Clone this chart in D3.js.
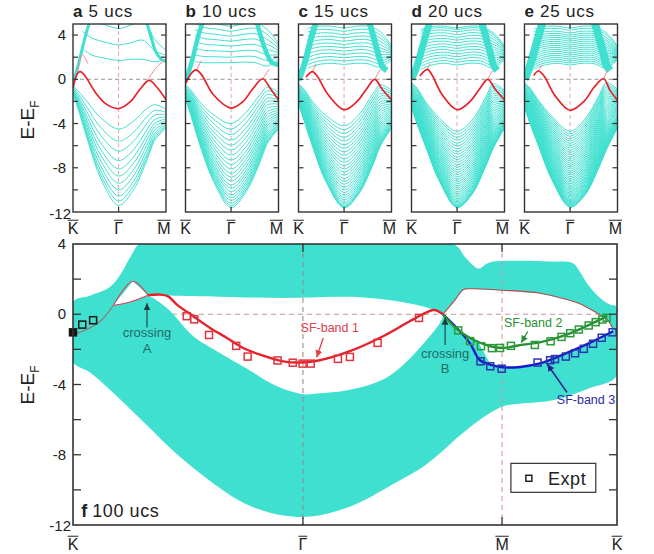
<!DOCTYPE html>
<html>
<head>
<meta charset="utf-8">
<script src="https://cdn.jsdelivr.net/npm/d3@7"></script>
<style>
  body { margin: 0; background: #fff; }
  svg { display: block; font-family: 'Liberation Sans', Arial, sans-serif; }
</style>
</head>
<body>
<div id="viz"></div>
<script>
// ---------- top panels a-e : slab calculations, k path K -> Gamma -> M mapped to 0..1
const PANEL_IDS = ['a', 'b', 'c', 'd', 'e'];
const PANEL_TITLES = ['5 ucs', '10 ucs', '15 ucs', '20 ucs', '25 ucs'];
const T_GAMMA = 0.49;
const T_LOWER = [0, 0.06, 0.15, 0.3, 0.49, 0.65, 0.8, 0.88, 1.0];
const T_UPPER = [0.1, 0.2, 0.35, 0.49, 0.62, 0.75, 0.88, 1.0];

// energy at Gamma of every sub-band below E_F (read panel by panel)
const lowerLevels = [
	[-4.5, -5.6, -6.5, -7.35, -8.1, -8.75, -9.4, -10.0, -10.55, -11.0, -11.4],
	[-4.0, -4.5, -5.0, -5.5, -5.95, -6.4, -6.85, -7.3, -7.7, -8.1, -8.5, -8.85, -9.2, -9.55, -9.85, -10.15, -10.45, -10.7, -10.95, -11.2, -11.4, -11.6],
	[-4.2, -4.55, -4.9, -5.24, -5.58, -5.91, -6.24, -6.56, -6.88, -7.19, -7.5, -7.8, -8.1, -8.39, -8.67, -8.95, -9.22, -9.48, -9.74, -9.99, -10.23, -10.46, -10.68, -10.89, -11.08, -11.25, -11.4, -11.5, -11.57, -11.62],
	[-4.7, -4.97, -5.24, -5.5, -5.76, -6.02, -6.27, -6.52, -6.77, -7.01, -7.25, -7.49, -7.72, -7.95, -8.17, -8.39, -8.61, -8.82, -9.03, -9.23, -9.43, -9.62, -9.81, -9.99, -10.17, -10.34, -10.5, -10.66, -10.81, -10.95, -11.08, -11.2, -11.31, -11.4, -11.47, -11.53, -11.57, -11.6],
	[-4.7, -4.92, -5.14, -5.36, -5.57, -5.78, -5.99, -6.2, -6.4, -6.6, -6.8, -7.0, -7.19, -7.38, -7.57, -7.76, -7.94, -8.12, -8.3, -8.47, -8.64, -8.81, -8.97, -9.13, -9.29, -9.44, -9.59, -9.74, -9.88, -10.02, -10.15, -10.28, -10.41, -10.53, -10.65, -10.76, -10.87, -10.97, -11.07, -11.16, -11.25, -11.33, -11.4, -11.46, -11.52, -11.57]
];
// top-most and bottom-most band of the lower manifold, at T_LOWER
const lowerInner = [
	[-0.6, -1.1, -2.0, -3.5, -4.5, -3.8, -2.6, -2.3, -2.7],
	[-0.5, -1.0, -2.0, -3.2, -4.0, -3.0, -1.4, -0.7, -1.2],
	[-0.4, -0.9, -2.0, -3.3, -4.2, -3.2, -1.3, -0.5, -1.0],
	[-0.3, -0.8, -2.0, -3.5, -4.7, -3.7, -1.6, -0.4, -1.0],
	[-0.3, -0.8, -1.9, -3.4, -4.7, -3.6, -1.5, -0.3, -0.9]
];
const lowerOuter = [
	[-1.3, -2.8, -5.3, -9.0, -11.4, -10.0, -7.2, -5.5, -4.4],
	[-1.8, -3.3, -5.8, -9.2, -11.6, -10.2, -7.5, -5.8, -4.5],
	[-2.2, -3.7, -6.0, -9.3, -11.6, -10.3, -7.7, -6.0, -4.4],
	[-2.5, -4.0, -6.0, -9.2, -11.6, -10.4, -7.8, -6.2, -4.4],
	[-2.5, -4.0, -6.0, -9.2, -11.6, -10.5, -8.0, -6.4, -4.4]
];

// sub-bands above E_F
const upperLevels = [
	[1.7, 3.1, 4.6],
	[1.5, 2.0, 2.5, 3.0, 3.45, 3.9, 4.35, 4.8],
	[1.35, 1.65, 1.95, 2.25, 2.55, 2.85, 3.15, 3.45, 3.75, 4.05, 4.35, 4.65],
	[1.3, 1.55, 1.8, 2.05, 2.3, 2.55, 2.8, 3.05, 3.3, 3.55, 3.8, 4.05, 4.3, 4.5, 4.65],
	[1.3, 1.48, 1.66, 1.84, 2.02, 2.2, 2.38, 2.56, 2.74, 2.92, 3.1, 3.28, 3.46, 3.64, 3.82, 4.0, 4.2, 4.45, 4.65]
];
const upperInner = [
	[2.8, 2.2, 1.9, 1.7, 1.8, 1.8, 1.6, 1.8],
	[1.6, 1.5, 1.5, 1.5, 1.55, 1.5, 1.2, 1.8],
	[1.0, 1.3, 1.45, 1.35, 1.45, 1.4, 1.1, 1.8],
	[0.9, 1.25, 1.45, 1.3, 1.45, 1.4, 1.0, 1.8],
	[0.9, 1.25, 1.45, 1.3, 1.45, 1.4, 1.0, 1.8]
];
const upperOuter = [
	[6.0, 5.4, 4.9, 4.6, 4.9, 5.4, 3.6, 2.6],
	[5.6, 5.2, 5.0, 4.8, 5.0, 5.1, 4.5, 3.2],
	[4.6, 4.8, 4.8, 4.65, 4.8, 4.8, 4.3, 3.0],
	[4.5, 4.75, 4.8, 4.65, 4.8, 4.75, 4.2, 3.0],
	[4.5, 4.75, 4.8, 4.65, 4.8, 4.75, 4.2, 3.0]
];

// steep bulk bands leaving K and entering M
const steepLeft = [
	[[0, -0.3], [0.03, 0.5], [0.065, 1.6], [0.13, 3.8], [0.19, 5.5]],
	[[0, -0.2], [0.04, 0.8], [0.08, 2.0], [0.14, 4.0], [0.2, 5.5]],
	[[0, -0.1], [0.045, 0.9], [0.09, 2.2], [0.145, 4.0], [0.2, 5.4]],
	[[0, 0.0], [0.05, 1.0], [0.1, 2.4], [0.15, 3.9], [0.2, 5.3]],
	[[0, 0.0], [0.05, 1.0], [0.1, 2.4], [0.15, 3.9], [0.2, 5.3]]
];
const steepRight = [
	[[0.78, 5.5], [0.84, 3.8], [0.89, 2.5], [0.95, 1.8], [1.0, 1.6]],
	[[0.76, 5.4], [0.82, 3.6], [0.88, 2.2], [0.93, 1.5], [1.0, 1.3]],
	[[0.76, 5.3], [0.81, 3.7], [0.86, 2.2], [0.9, 1.2], [0.95, 0.8]],
	[[0.75, 5.3], [0.8, 3.8], [0.85, 2.3], [0.88, 1.3], [0.92, 0.8]],
	[[0.75, 5.3], [0.8, 3.8], [0.85, 2.3], [0.88, 1.3], [0.92, 0.8]]
];

// surface state (red) and its faint continuation
const redBands = [
	[[0, -0.8], [0.05, 0.55], [0.08, 0.7], [0.13, 0.3], [0.25, -1.3], [0.35, -2.2], [0.49, -2.65], [0.62, -2.0], [0.72, -0.9], [0.82, -0.1], [0.9, -0.7], [1.0, -1.85]],
	[[0, -0.4], [0.06, 0.5], [0.11, 0.85], [0.17, 0.45], [0.3, -1.4], [0.49, -2.6], [0.62, -2.0], [0.72, -0.9], [0.83, 0.05], [0.91, -0.8], [1.0, -1.85]],
	[[0.08, 0.2], [0.15, 0.7], [0.2, 0.3], [0.32, -1.4], [0.49, -2.75], [0.63, -2.0], [0.73, -0.9], [0.82, 0.0], [0.9, -0.9], [1.0, -1.85]],
	[[0.09, 0.3], [0.17, 0.9], [0.22, 0.4], [0.33, -1.4], [0.49, -2.75], [0.63, -2.0], [0.73, -0.9], [0.82, 0.0], [0.9, -0.9], [1.0, -1.85]],
	[[0.1, 0.35], [0.15, 0.75], [0.21, 0.3], [0.33, -1.5], [0.49, -2.8], [0.64, -2.0], [0.75, -0.7], [0.85, 0.05], [0.92, -1.0], [1.0, -1.9]]
];
const redThin = [
	[[[0.05, 0.6], [0.1, 2.2], [0.16, 1.4]], [[0.8, -0.1], [0.9, 1.1], [1.0, 1.8]]],
	[[[0.12, 0.85], [0.17, 1.7]], [[0.83, 0.05], [0.9, 0.9]]],
	[[[0.15, 0.7], [0.19, 1.4]], [[0.82, 0.0], [0.88, 0.9]]],
	[[[0.17, 0.9], [0.2, 1.4]], [[0.82, 0.0], [0.87, 0.8]]],
	[[[0.15, 0.75], [0.19, 1.3]], [[0.85, 0.05], [0.89, 0.8]]]
];

// ---------- panel f : 100 ucs, k path K -> Gamma -> M -> K mapped to 0..1
const F_TICK_POS = [0, 0.4227, 0.7887, 1];
const F_TICK_LABELS = ['K', 'Γ', 'M', 'K'];
const Y_TICKS = [4, 0, -4, -8, -12];

// projected bulk continuum: outline and the white pockets inside it
const fBulkOutline = [[0.123, 4], [0.699, 4], [0.722, 3.2], [0.745, 2.6], [0.759, 2.85], [0.772, 3.0], [0.822, 3.05], [0.877, 3.0], [0.919, 2.9], [0.932, 2.4], [0.945, 1.75], [0.96, 1.2], [0.974, 0.8], [0.987, 0.55], [1, 0.4],
	[1, -3.5], [0.95, -4.2], [0.882, -4.9], [0.822, -5.1], [0.79, -5.25], [0.748, -6.0], [0.711, -6.9], [0.675, -7.9], [0.638, -8.8], [0.601, -9.45], [0.564, -10.1], [0.528, -10.7], [0.491, -11.15], [0.454, -11.45], [0.421, -11.55],
	[0.399, -11.5], [0.362, -11.3], [0.325, -10.9], [0.289, -10.3], [0.252, -9.5], [0.215, -8.6], [0.178, -7.6], [0.142, -6.5], [0.105, -5.4], [0.068, -4.3], [0.031, -3.3], [0, -2.7],
	[0, 0.7], [0.031, 1.05], [0.068, 1.55], [0.086, 2.2], [0.099, 2.9], [0.11, 3.5]];
const fGapLens = [[0.138, 1.08], [0.16, 1.12], [0.178, 1.07], [0.27, 1.0], [0.386, 0.93], [0.509, 0.99], [0.601, 0.71], [0.656, 0.33], [0.68, 0], [0.638, -1.9], [0.577, -3.6], [0.509, -4.3], [0.454, -4.5], [0.423, -4.55], [0.375, -4.1], [0.32, -3.1], [0.27, -2.2], [0.221, -1.25], [0.178, 0.2], [0.151, 0.85]];
const fGapTriangle = [[0.074, 0.5], [0.11, 1.88], [0.138, 1.08], [0.105, 0.7]];
const fGapRight = [[0.68, 0], [0.702, 0.8], [0.717, 1.4], [0.73, 1.45], [0.79, 1.37], [0.858, 1.2], [0.908, 0.84], [0.932, 0.6], [0.963, 0.07], [0.982, -0.3], [0.993, -0.85], [0.969, -1.45], [0.95, -1.63], [0.908, -2.2], [0.858, -2.8], [0.822, -2.97], [0.79, -3.0], [0.768, -2.87], [0.746, -1.65], [0.737, -1.44], [0.708, -0.85]];

// calculated surface bands
const fBand1 = [[0.138, 1.08], [0.16, 1.12], [0.175, 1.02], [0.191, 0.55], [0.221, -0.11], [0.252, -0.78], [0.283, -1.35], [0.313, -1.92], [0.344, -2.3], [0.386, -2.68], [0.417, -2.75], [0.449, -2.65], [0.509, -2.1], [0.57, -1.25], [0.619, -0.4], [0.651, 0.12], [0.664, 0.24], [0.68, 0]];
const fBand2 = [[0.68, 0], [0.706, -0.85], [0.735, -1.44], [0.767, -1.82], [0.79, -1.92], [0.827, -1.73], [0.858, -1.6], [0.908, -1.16], [0.95, -0.59], [0.982, -0.11]];
const fBand3 = [[0.68, 0], [0.711, -0.95], [0.73, -1.67], [0.748, -2.62], [0.767, -2.87], [0.79, -3.02], [0.822, -3.0], [0.858, -2.8], [0.908, -2.2], [0.95, -1.63], [0.993, -0.97]];
const fThinK = [[0, -1.16], [0.025, -0.87], [0.05, -0.4], [0.064, 0.08], [0.074, 0.5]];
const fThinUpper = [[0.074, 0.5], [0.11, 1.88], [0.138, 1.08]];
const fThinLower = [[0.074, 0.5], [0.105, 0.7], [0.138, 1.08]];
const fThinRight = [[0.68, 0], [0.702, 0.8], [0.717, 1.4], [0.73, 1.45], [0.79, 1.37], [0.858, 1.2], [0.908, 0.84], [0.932, 0.6], [0.963, 0.07], [0.982, -0.3], [0.993, -0.85]];

// ARPES points (Expt)
const exptK = [[0.0, -1.03], [0.017, -0.59], [0.037, -0.34]];
const exptBand1 = [[0.209, -0.11], [0.223, -0.29], [0.25, -1.18], [0.3, -1.8], [0.321, -2.41], [0.376, -2.63], [0.404, -2.76], [0.422, -2.81], [0.437, -2.81], [0.487, -2.54], [0.509, -2.43], [0.56, -1.63], [0.636, -0.21]];
const exptBand2 = [[0.708, -0.92], [0.73, -1.53], [0.75, -1.82], [0.77, -1.93], [0.785, -1.92], [0.805, -1.8], [0.849, -1.75], [0.878, -1.54], [0.898, -1.29], [0.914, -1.08], [0.93, -0.87], [0.948, -0.64], [0.961, -0.45], [0.973, -0.3], [0.981, -0.2]];
const exptBand3 = [[0.749, -2.68], [0.767, -2.96], [0.788, -3.1], [0.854, -2.75], [0.877, -2.62], [0.886, -2.55], [0.906, -2.41], [0.923, -2.22], [0.939, -1.97], [0.956, -1.68], [0.972, -1.34], [0.992, -1.03]];

// ---------- layout / style
const WIDTH = 654, HEIGHT = 554;
const TOP_X = [73, 185.5, 298.5, 411.5, 524.5];
const TOP_W = 93;
const CYAN = '#40e0d0';
const RED = '#e8202a';
const GREEN = '#2a8f32';
const BLUE = '#1818d0';
const FRAME = '#333';
const STEEP_WIDTH = [3, 4.5, 6, 7, 8];

const svg = d3.select('#viz').append('svg')
	.attr('width', WIDTH)
	.attr('height', HEIGHT);

const defs = svg.append('defs');
[['dark', '#1d3f3f'], ['red', '#e0404a'], ['green', GREEN], ['blue', '#202090']].forEach(([name, col]) => {
	defs.append('marker')
		.attr('id', 'arrow-' + name)
		.attr('markerUnits', 'userSpaceOnUse')
		.attr('markerWidth', 8).attr('markerHeight', 8)
		.attr('refX', 7).attr('refY', 3.5)
		.attr('orient', 'auto')
		.append('path')
		.attr('d', 'M0,0 L7,3.5 L0,7 Z')
		.attr('fill', col);
});

function blendBand(level, tCtrl, inner, outer, gi) {
	const f = (level - inner[gi]) / (outer[gi] - inner[gi]);
	return tCtrl.map((t, i) => [t, inner[i] + f * (outer[i] - inner[i])]);
}

function barLabel(g, x, y, txt, size) {
	const t = g.append('text')
		.attr('x', x).attr('y', y)
		.attr('text-anchor', 'middle')
		.attr('font-size', size)
		.attr('fill', '#222')
		.text(txt);
	const w = t.node().getComputedTextLength();
	g.append('line')
		.attr('x1', x - w / 2).attr('x2', x + w / 2)
		.attr('y1', y - size * 0.86).attr('y2', y - size * 0.86)
		.attr('stroke', '#222').attr('stroke-width', 1);
}

function yLabel(x, y) {
	const t = svg.append('text')
		.attr('transform', 'translate(' + x + ',' + y + ') rotate(-90)')
		.attr('text-anchor', 'middle')
		.attr('font-size', 19)
		.attr('fill', '#222');
	t.append('tspan').text('E-E');
	t.append('tspan').attr('dy', 5).attr('font-size', 12).text('F');
}

// ---------- top row
const yTop = d3.scaleLinear().domain([-12, 5]).range([212, 24]);

PANEL_IDS.forEach((id, p) => {
	const x = d3.scaleLinear().domain([0, 1]).range([TOP_X[p], TOP_X[p] + TOP_W]);
	const line = d3.line()
		.x((d) => x(d[0]))
		.y((d) => yTop(d[1]))
		.curve(d3.curveCatmullRom.alpha(0.5));

	const g = svg.append('g').attr('class', 'panel-' + id);
	defs.append('clipPath').attr('id', 'clip-' + id)
		.append('rect')
		.attr('x', x(0)).attr('y', yTop(5))
		.attr('width', TOP_W).attr('height', yTop(-12) - yTop(5));

	const body = g.append('g').attr('clip-path', 'url(#clip-' + id + ')');

	body.append('line')
		.attr('x1', x(0)).attr('x2', x(1))
		.attr('y1', yTop(0)).attr('y2', yTop(0))
		.attr('stroke', '#8a8a8a').attr('stroke-width', 0.9)
		.attr('stroke-dasharray', '4,3');
	body.append('line')
		.attr('x1', x(T_GAMMA)).attr('x2', x(T_GAMMA))
		.attr('y1', yTop(5)).attr('y2', yTop(-12))
		.attr('stroke', '#e39a9a').attr('stroke-width', 0.9)
		.attr('stroke-dasharray', '4,3');

	body.selectAll('.lower-band')
		.data(lowerLevels[p].map((e) => blendBand(e, T_LOWER, lowerInner[p], lowerOuter[p], 4)))
		.enter().append('path')
		.attr('class', 'lower-band')
		.attr('fill', 'none')
		.attr('stroke', CYAN)
		.attr('stroke-width', 1)
		.attr('d', line);

	body.selectAll('.upper-band')
		.data(upperLevels[p].map((e) => blendBand(e, T_UPPER, upperInner[p], upperOuter[p], 3)))
		.enter().append('path')
		.attr('class', 'upper-band')
		.attr('fill', 'none')
		.attr('stroke', CYAN)
		.attr('stroke-width', 1)
		.attr('d', line);

	body.selectAll('.steep-band')
		.data([steepLeft[p], steepRight[p]])
		.enter().append('path')
		.attr('class', 'steep-band')
		.attr('fill', 'none')
		.attr('stroke', CYAN)
		.attr('stroke-width', STEEP_WIDTH[p])
		.attr('d', line);

	body.selectAll('.red-thin')
		.data(redThin[p])
		.enter().append('path')
		.attr('class', 'red-thin')
		.attr('fill', 'none')
		.attr('stroke', '#f08c8c')
		.attr('stroke-width', 1)
		.attr('d', line);

	body.append('path')
		.datum(redBands[p])
		.attr('fill', 'none')
		.attr('stroke', RED)
		.attr('stroke-width', 1.7)
		.attr('d', line);

	// frame and ticks
	g.append('rect')
		.attr('x', x(0)).attr('y', yTop(5))
		.attr('width', TOP_W).attr('height', yTop(-12) - yTop(5))
		.attr('fill', 'none').attr('stroke', FRAME).attr('stroke-width', 1.4);

	const ticks = d3.range(-10, 5, 2);
	g.selectAll('.tick-l').data(ticks).enter().append('line')
		.attr('x1', x(0)).attr('x2', x(0) + 5)
		.attr('y1', (d) => yTop(d)).attr('y2', (d) => yTop(d))
		.attr('stroke', FRAME).attr('stroke-width', 1.2);
	g.selectAll('.tick-r').data(ticks).enter().append('line')
		.attr('x1', x(1) - 5).attr('x2', x(1))
		.attr('y1', (d) => yTop(d)).attr('y2', (d) => yTop(d))
		.attr('stroke', FRAME).attr('stroke-width', 1.2);
	[[yTop(5), yTop(5) + 5], [yTop(-12), yTop(-12) - 5]].forEach(([a, b]) => {
		g.append('line')
			.attr('x1', x(T_GAMMA)).attr('x2', x(T_GAMMA))
			.attr('y1', a).attr('y2', b)
			.attr('stroke', FRAME).attr('stroke-width', 1.2);
	});

	const title = g.append('text')
		.attr('x', x(0)).attr('y', 17)
		.attr('font-size', 17)
		.attr('fill', '#222');
	title.append('tspan').attr('font-weight', 'bold').text(id);
	title.append('tspan').attr('dx', 6).attr('letter-spacing', 0.8).text(PANEL_TITLES[p]);

	barLabel(g, x(0), 234, 'K', 16);
	barLabel(g, x(T_GAMMA), 234, 'Γ', 16);
	barLabel(g, x(1) - 2, 234, 'M', 16);
});

svg.selectAll('.ytick-top')
	.data(Y_TICKS)
	.enter().append('text')
	.attr('x', (d) => d === -12 ? 71 : 66)
	.attr('y', (d) => yTop(d) + (d === -12 ? 7 : 5))
	.attr('text-anchor', 'end')
	.attr('font-size', 15)
	.attr('fill', '#222')
	.text((d) => d);

yLabel(34, 120);

// ---------- panel f
const xF = d3.scaleLinear().domain([0, 1]).range([73, 617]);
const yF = d3.scaleLinear().domain([-12, 4]).range([525, 244]);
const fLine = d3.line()
	.x((d) => xF(d[0]))
	.y((d) => yF(d[1]))
	.curve(d3.curveCatmullRom.alpha(0.5));
const fRing = d3.line()
	.x((d) => xF(d[0]))
	.y((d) => yF(d[1]))
	.curve(d3.curveCatmullRomClosed.alpha(0.5));
const fPoly = d3.line()
	.x((d) => xF(d[0]))
	.y((d) => yF(d[1]))
	.curve(d3.curveLinearClosed);

defs.append('clipPath').attr('id', 'clip-f')
	.append('rect')
	.attr('x', xF(0)).attr('y', yF(4))
	.attr('width', xF(1) - xF(0)).attr('height', yF(-12) - yF(4));

const fg = svg.append('g').attr('class', 'panel-f');
const fBody = fg.append('g').attr('clip-path', 'url(#clip-f)');

fBody.append('line')
	.attr('x1', xF(0)).attr('x2', xF(1))
	.attr('y1', yF(0)).attr('y2', yF(0))
	.attr('stroke', '#c09a9a').attr('stroke-width', 1)
	.attr('stroke-dasharray', '5,4');

fBody.append('path')
	.attr('class', 'bulk')
	.attr('fill', CYAN)
	.attr('fill-rule', 'evenodd')
	.attr('d', fRing(fBulkOutline) + fRing(fGapLens) + fPoly(fGapTriangle) + fPoly(fGapRight));

fBody.selectAll('.vdash')
	.data([F_TICK_POS[1], F_TICK_POS[2]])
	.enter().append('line')
	.attr('x1', (d) => xF(d)).attr('x2', (d) => xF(d))
	.attr('y1', yF(4)).attr('y2', yF(-12))
	.attr('stroke', (d, i) => i === 0 ? '#9a8080' : '#e08a8a')
	.attr('stroke-width', 1)
	.attr('stroke-dasharray', '5,4');

// thin bulk-edge lines
fBody.append('path').datum(fThinK)
	.attr('fill', 'none').attr('stroke', '#9a7070').attr('stroke-width', 1.1).attr('d', fLine);
fBody.selectAll('.thin-red')
	.data([fThinUpper, fThinLower, fThinRight])
	.enter().append('path')
	.attr('fill', 'none')
	.attr('stroke', (d, i) => i === 2 ? '#b84848' : '#e04050')
	.attr('stroke-width', 1.1)
	.attr('d', fLine);

// surface bands
fBody.selectAll('.sf-band')
	.data([[fBand3, BLUE], [fBand2, GREEN], [fBand1, RED]])
	.enter().append('path')
	.attr('class', 'sf-band')
	.attr('fill', 'none')
	.attr('stroke', (d) => d[1])
	.attr('stroke-width', 2.4)
	.attr('d', (d) => fLine(d[0]));

// experiment squares
const SQ = 7;
[[exptK, '#151515'], [exptBand1, '#e0343c'], [exptBand2, '#2a9a3a'], [exptBand3, '#2a36b0']].forEach(([pts, col]) => {
	fg.selectAll(null)
		.data(pts)
		.enter().append('rect')
		.attr('x', (d) => xF(d[0]) - SQ / 2)
		.attr('y', (d) => yF(d[1]) - SQ / 2)
		.attr('width', SQ).attr('height', SQ)
		.attr('fill', (d, i) => (pts === exptK && i === 0) ? col : 'none')
		.attr('stroke', col)
		.attr('stroke-width', 1.5);
});

// annotations
function note(s, e, lines, col, size, dy) {
	const t = fg.append('text')
		.attr('x', xF(s)).attr('y', yF(e))
		.attr('text-anchor', 'middle')
		.attr('font-size', size)
		.attr('fill', col);
	lines.forEach((l, i) => {
		t.append('tspan').attr('x', xF(s)).attr('dy', i === 0 ? 0 : dy).text(l);
	});
}
function arrow(from, to, name, col, w) {
	fg.append('line')
		.attr('x1', xF(from[0])).attr('y1', yF(from[1]))
		.attr('x2', xF(to[0])).attr('y2', yF(to[1]))
		.attr('stroke', col).attr('stroke-width', w)
		.attr('marker-end', 'url(#arrow-' + name + ')');
}

note(0.136, -1.31, ['crossing', 'A'], '#1f6a66', 13, 16);
arrow([0.136, -0.75], [0.136, 0.62], 'dark', '#1d3f3f', 1.1);
note(0.684, -2.5, ['crossing', 'B'], '#1f6a66', 13, 15);
arrow([0.684, -1.75], [0.684, -0.2], 'dark', '#1d3f3f', 1.1);

note(0.472, -1.0, ['SF-band 1'], '#e0404a', 12.5, 0);
arrow([0.46, -1.35], [0.448, -2.45], 'red', '#e0404a', 1.3);
note(0.846, -0.74, ['SF-band 2'], GREEN, 12.5, 0);
arrow([0.836, -0.98], [0.824, -1.62], 'green', GREEN, 1.3);
note(0.943, -5.1, ['SF-band 3'], '#2a2aa8', 12.5, 0);
arrow([0.908, -4.45], [0.872, -2.85], 'blue', '#202090', 1.6);

const fTitle = fg.append('text')
	.attr('x', xF(0.015)).attr('y', yF(-11.56))
	.attr('font-size', 18)
	.attr('fill', '#222');
fTitle.append('tspan').attr('font-weight', 'bold').text('f');
fTitle.append('tspan').attr('dx', 5).attr('letter-spacing', 0.6).text('100 ucs');

// legend
fg.append('rect')
	.attr('x', xF(0.805)).attr('y', yF(-8.49))
	.attr('width', xF(0.961) - xF(0.805)).attr('height', yF(-10.14) - yF(-8.49))
	.attr('fill', '#fff').attr('stroke', '#333').attr('stroke-width', 1.2);
fg.append('rect')
	.attr('x', xF(0.838) - 3).attr('y', yF(-9.34) - 3)
	.attr('width', 6).attr('height', 6)
	.attr('fill', 'none').attr('stroke', '#222').attr('stroke-width', 1.5);
fg.append('text')
	.attr('x', xF(0.873)).attr('y', yF(-9.74))
	.attr('font-size', 18)
	.attr('letter-spacing', 0.6)
	.attr('fill', '#222')
	.text('Expt');

// frame, ticks, labels
fg.append('rect')
	.attr('x', xF(0)).attr('y', yF(4))
	.attr('width', xF(1) - xF(0)).attr('height', yF(-12) - yF(4))
	.attr('fill', 'none').attr('stroke', FRAME).attr('stroke-width', 1.6);

const fTicks = d3.range(-10, 4, 2);
fg.selectAll('.ftick-l').data(fTicks).enter().append('line')
	.attr('x1', xF(0)).attr('x2', xF(0) + 8)
	.attr('y1', (d) => yF(d)).attr('y2', (d) => yF(d))
	.attr('stroke', FRAME).attr('stroke-width', 1.3);
fg.selectAll('.ftick-r').data(fTicks).enter().append('line')
	.attr('x1', xF(1) - 8).attr('x2', xF(1))
	.attr('y1', (d) => yF(d)).attr('y2', (d) => yF(d))
	.attr('stroke', FRAME).attr('stroke-width', 1.3);
[F_TICK_POS[1], F_TICK_POS[2]].forEach((s) => {
	[[yF(4), yF(4) + 8], [yF(-12), yF(-12) - 8]].forEach(([a, b]) => {
		fg.append('line')
			.attr('x1', xF(s)).attr('x2', xF(s))
			.attr('y1', a).attr('y2', b)
			.attr('stroke', FRAME).attr('stroke-width', 1.3);
	});
});

fg.selectAll('.ytick-f')
	.data(Y_TICKS)
	.enter().append('text')
	.attr('x', (d) => d === -12 ? 71 : 66)
	.attr('y', (d) => yF(d) + (d === -12 ? 6 : 5))
	.attr('text-anchor', 'end')
	.attr('font-size', 15)
	.attr('fill', '#222')
	.text((d) => d);

F_TICK_POS.forEach((s, i) => barLabel(fg, xF(s), 550, F_TICK_LABELS[i], 16));

yLabel(34, 385);
</script>
</body>
</html>
